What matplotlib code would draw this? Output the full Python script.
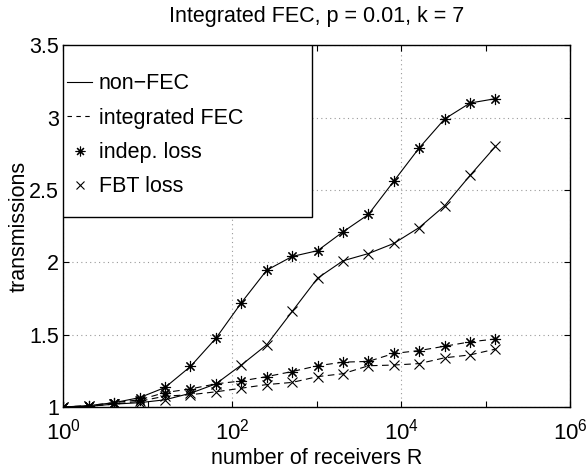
import matplotlib
matplotlib.use("Agg")
import matplotlib.pyplot as plt
from matplotlib.lines import Line2D
from matplotlib.patches import Rectangle
from matplotlib.ticker import FixedLocator, FixedFormatter, NullFormatter

plt.rcParams['font.family'] = ['Liberation Sans', 'DejaVu Sans']
plt.rcParams['font.size'] = 15.5

# number of receivers R = 2^0 ... 2^17
receivers = [1, 2, 4, 8, 16, 32, 64, 128, 256, 512, 1024, 2048, 4096,
             8192, 16384, 32768, 65536, 131072]

nonfec_indep = [1.00, 1.01, 1.03, 1.065, 1.135, 1.28, 1.475, 1.72, 1.945,
                2.04, 2.08, 2.21, 2.33, 2.56, 2.79, 2.99, 3.10, 3.13]
nonfec_fbt = [1.00, 1.005, 1.02, 1.03, 1.05, 1.095, 1.16, 1.29, 1.43,
              1.66, 1.89, 2.01, 2.06, 2.13, 2.24, 2.39, 2.60, 2.80]
fec_indep = [1.00, 1.01, 1.03, 1.05, 1.10, 1.125, 1.16, 1.18, 1.21,
             1.245, 1.285, 1.31, 1.315, 1.37, 1.39, 1.42, 1.45, 1.47]
fec_fbt = [1.00, 1.005, 1.02, 1.04, 1.075, 1.085, 1.105, 1.13, 1.155,
           1.17, 1.21, 1.23, 1.285, 1.29, 1.30, 1.34, 1.36, 1.40]

xticks = [1, 1e2, 1e4, 1e6]
xticklabels = ['$\\mathdefault{10^{0}}$', '$\\mathdefault{10^{2}}$',
               '$\\mathdefault{10^{4}}$', '$\\mathdefault{10^{6}}$']
yticks = [1, 1.5, 2, 2.5, 3, 3.5]
yticklabels = ['1', '1.5', '2', '2.5', '3', '3.5']

star = (8, 2, 0)  # 8-armed asterisk

fig = plt.figure(figsize=(5.87, 4.70), dpi=100)
ax = fig.add_axes([0.108, 0.134, 0.863, 0.770])

lw = 0.8
ax.plot(receivers, nonfec_indep, 'k-', marker=star, lw=lw, ms=8, mew=0.8)
ax.plot(receivers, nonfec_fbt, 'k-x', lw=lw, ms=7, mew=0.8)
ax.plot(receivers, fec_indep, 'k--', marker=star, lw=lw, ms=8, mew=0.8,
        dashes=(6, 4))
ax.plot(receivers, fec_fbt, 'k--x', lw=lw, ms=7, mew=0.8, dashes=(6, 4))

ax.set_xscale('log')
ax.set_xlim(1, 1e6)
ax.set_ylim(1, 3.5)
ax.xaxis.set_major_locator(FixedLocator(xticks))
ax.xaxis.set_major_formatter(FixedFormatter(xticklabels))
ax.xaxis.set_minor_locator(FixedLocator([10, 1e3, 1e5]))
ax.xaxis.set_minor_formatter(NullFormatter())
ax.set_yticks(yticks)
ax.set_yticklabels(yticklabels)

ax.tick_params(which='both', direction='in', top=True, right=True,
               length=4, width=0.8)
ax.tick_params(axis='x', labelsize=16, pad=8)
ax.tick_params(axis='y', pad=3)
ax.grid(True, which='major', linestyle=(0, (1, 3)), color='0.6', lw=0.8)
for s in ax.spines.values():
    s.set_linewidth(1.0)

ax.set_title('Integrated FEC, p = 0.01, k = 7', fontsize=15.5, pad=17)
ax.set_xlabel('number of receivers R', labelpad=3)
ax.set_ylabel('transmissions', labelpad=0)

# legend box, drawn as its own frame so its padding can be set freely
ax.add_patch(Rectangle((0, 0.525), 0.49, 0.475, transform=ax.transAxes,
                       facecolor='white', edgecolor='k', lw=1.0, zorder=4))
handles = [
    Line2D([], [], color='k', lw=lw, ls='-'),
    Line2D([], [], color='k', lw=lw, ls='--', dashes=(4, 4)),
    Line2D([], [], color='k', lw=0, marker=star, ms=7, mew=0.8),
    Line2D([], [], color='k', lw=0, marker='x', ms=6, mew=0.8),
]
labels = ['non\u2212FEC', 'integrated FEC', 'indep. loss', 'FBT loss']
leg = ax.legend(handles, labels, loc='upper left',
                bbox_to_anchor=(0.008, 0.922), borderaxespad=0,
                borderpad=0, frameon=False, handlelength=1.15,
                handletextpad=0.3, labelspacing=0.62)
leg.set_zorder(5)

fig.savefig('out.png', dpi=100)
